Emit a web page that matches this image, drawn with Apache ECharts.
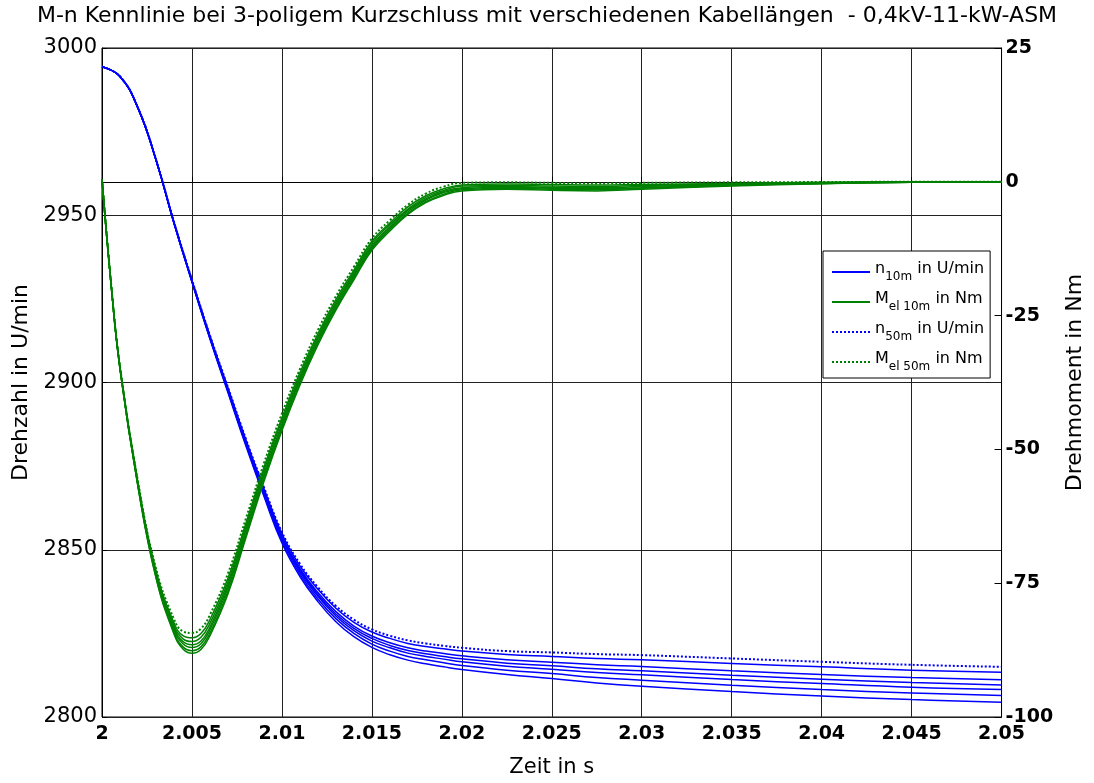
<!DOCTYPE html>
<html>
<head>
<meta charset="utf-8">
<script src="https://cdn.jsdelivr.net/npm/echarts@6/dist/echarts.min.js"></script>
<style>
html,body{margin:0;padding:0;background:#fff;}
#chart{width:1094px;height:783px;}
</style>
</head>
<body>
<div id="chart"></div>
<script>
// Time axes (s)
const timeSpeed = [2.000, 2.001, 2.002, 2.003, 2.004, 2.005, 2.006, 2.007, 2.008, 2.009, 2.010, 2.011, 2.012, 2.013, 2.014, 2.015, 2.016, 2.017, 2.018, 2.019, 2.020, 2.0225, 2.025, 2.0275, 2.030, 2.035, 2.040, 2.045, 2.050];
const timeTorque = [2.000, 2.0005, 2.001, 2.002, 2.003, 2.004, 2.0045, 2.005, 2.0055, 2.006, 2.007, 2.008, 2.009, 2.010, 2.011, 2.012, 2.013, 2.014, 2.015, 2.016, 2.017, 2.018, 2.019, 2.020, 2.0225, 2.025, 2.0275, 2.030, 2.035, 2.040, 2.045, 2.050];

// Speed n in U/min
const n10m = [2994.4, 2991.5, 2982.0, 2966.5, 2947.6, 2930.0, 2913.0, 2897.0, 2881.0, 2866.0, 2852.0, 2842.0, 2834.5, 2828.5, 2824.0, 2820.8, 2818.6, 2817.0, 2815.9, 2815.0, 2814.2, 2812.7, 2811.5, 2810.2, 2809.2, 2807.6, 2806.3, 2805.2, 2804.4];
const n15m = [2994.4, 2991.5, 2982.0, 2966.5, 2947.7, 2930.1, 2913.2, 2897.3, 2881.4, 2866.5, 2852.6, 2842.7, 2835.3, 2829.4, 2825.0, 2821.8, 2819.7, 2818.1, 2817.1, 2816.2, 2815.4, 2814.0, 2813.0, 2811.8, 2811.0, 2809.5, 2808.2, 2807.2, 2806.4];
const n20m = [2994.4, 2991.5, 2982.0, 2966.6, 2947.7, 2930.3, 2913.4, 2897.6, 2881.8, 2867.0, 2853.2, 2843.4, 2836.1, 2830.2, 2825.8, 2822.7, 2820.7, 2819.1, 2818.1, 2817.3, 2816.5, 2815.2, 2814.3, 2813.3, 2812.6, 2811.2, 2810.0, 2808.9, 2808.2];
const n25m = [2994.4, 2991.5, 2982.1, 2966.6, 2947.8, 2930.3, 2913.5, 2897.8, 2882.0, 2867.3, 2853.6, 2843.9, 2836.6, 2830.8, 2826.5, 2823.5, 2821.4, 2819.9, 2818.9, 2818.1, 2817.4, 2816.1, 2815.3, 2814.4, 2813.8, 2812.5, 2811.3, 2810.3, 2809.6];
const n30m = [2994.4, 2991.5, 2982.1, 2966.6, 2947.9, 2930.4, 2913.7, 2898.0, 2882.3, 2867.7, 2854.1, 2844.4, 2837.2, 2831.5, 2827.2, 2824.2, 2822.2, 2820.7, 2819.7, 2819.0, 2818.3, 2817.1, 2816.4, 2815.6, 2815.1, 2813.8, 2812.7, 2811.8, 2811.1];
const n40m = [2994.4, 2991.5, 2982.1, 2966.7, 2947.9, 2930.6, 2913.9, 2898.4, 2882.8, 2868.3, 2854.8, 2845.2, 2838.2, 2832.5, 2828.3, 2825.4, 2823.5, 2822.0, 2821.1, 2820.4, 2819.7, 2818.7, 2818.1, 2817.5, 2817.1, 2816.0, 2815.0, 2814.0, 2813.4];
const n50m = [2994.4, 2991.5, 2982.1, 2966.7, 2948.0, 2930.7, 2914.1, 2898.6, 2883.1, 2868.7, 2855.3, 2845.8, 2838.8, 2833.2, 2829.1, 2826.2, 2824.3, 2822.9, 2822.0, 2821.3, 2820.7, 2819.7, 2819.3, 2818.8, 2818.5, 2817.5, 2816.5, 2815.6, 2815.0];

// Electrical torque M_el in Nm
const m10m = [0.5, -19.0, -35.0, -57.0, -74.0, -84.5, -87.3, -88.1, -87.4, -84.8, -77.0, -66.5, -56.0, -46.5, -38.0, -30.5, -24.0, -18.3, -12.8, -9.2, -6.1, -3.9, -2.5, -1.7, -1.4, -1.6, -1.7, -1.4, -0.8, -0.35, -0.1, 0];
const m15m = [0.5, -19.0, -34.9, -56.9, -73.8, -84.1, -86.9, -87.6, -86.9, -84.3, -76.5, -66.0, -55.6, -46.1, -37.6, -30.1, -23.7, -18.0, -12.5, -8.9, -5.9, -3.7, -2.3, -1.5, -1.2, -1.4, -1.5, -1.2, -0.7, -0.3, -0.1, 0];
const m20m = [0.5, -18.9, -34.9, -56.7, -73.5, -83.7, -86.3, -87.0, -86.3, -83.7, -75.9, -65.5, -55.0, -45.6, -37.1, -29.7, -23.3, -17.6, -12.2, -8.6, -5.6, -3.4, -2.0, -1.3, -1.0, -1.2, -1.3, -1.1, -0.6, -0.3, -0.1, 0];
const m25m = [0.5, -18.9, -34.8, -56.6, -73.2, -83.3, -85.9, -86.5, -85.8, -83.2, -75.4, -65.0, -54.6, -45.2, -36.7, -29.3, -22.9, -17.3, -11.9, -8.4, -5.3, -3.2, -1.8, -1.1, -0.9, -1.0, -1.1, -0.9, -0.5, -0.2, -0.1, 0];
const m30m = [0.5, -18.9, -34.7, -56.4, -73.0, -82.9, -85.4, -85.9, -85.1, -82.5, -74.8, -64.4, -54.0, -44.6, -36.3, -28.9, -22.5, -16.9, -11.5, -8.0, -5.1, -2.9, -1.6, -0.8, -0.7, -0.8, -0.9, -0.7, -0.4, -0.2, 0, 0];
const m40m = [0.5, -18.9, -34.6, -56.2, -72.6, -82.4, -84.8, -85.2, -84.4, -81.8, -74.1, -63.8, -53.4, -44.1, -35.7, -28.4, -22.0, -16.5, -11.1, -7.7, -4.7, -2.6, -1.3, -0.6, -0.4, -0.5, -0.6, -0.5, -0.3, -0.1, 0, 0];
const m50m = [0.5, -18.8, -34.5, -56.0, -72.2, -81.7, -84.0, -84.3, -83.5, -80.9, -73.2, -62.9, -52.6, -43.3, -35.0, -27.7, -21.4, -15.9, -10.6, -7.2, -4.3, -2.2, -0.9, -0.2, -0.1, -0.2, -0.3, -0.2, -0.1, -0.05, 0, 0];

const speedTicks = [2800, 2850, 2900, 2950, 3000];
const torqueTicks = [-100, -75, -50, -25, 0, 25];

const FONT = 'DejaVu Sans';
const BLUE = '#0000ff';
const GREEN = '#008000';

function pairs(t, v) { return t.map((x, i) => [x, v[i]]); }

const speedSets = [
  ['n10m', n10m, 'solid'], ['n15m', n15m, 'solid'], ['n20m', n20m, 'solid'], ['n25m', n25m, 'solid'],
  ['n30m', n30m, 'solid'], ['n40m', n40m, 'solid'], ['n50m', n50m, 'dotted']
];
const torqueSets = [
  ['Mel10m', m10m, 'solid'], ['Mel15m', m15m, 'solid'], ['Mel20m', m20m, 'solid'], ['Mel25m', m25m, 'solid'],
  ['Mel30m', m30m, 'solid'], ['Mel40m', m40m, 'solid'], ['Mel50m', m50m, 'dotted']
];

const series = [];
speedSets.forEach(([name, vals, type]) => {
  series.push({
    name, type: 'line', yAxisIndex: 0, data: pairs(timeSpeed, vals),
    showSymbol: false, symbol: 'none', smooth: 0.45,
    lineStyle: { color: BLUE, width: type === 'dotted' ? 2 : 1.5, type },
    itemStyle: { color: BLUE }, z: 2, silent: true, animation: false
  });
});
torqueSets.forEach(([name, vals, type], i) => {
  const s = {
    name, type: 'line', yAxisIndex: 1, data: pairs(timeTorque, vals),
    showSymbol: false, symbol: 'none', smooth: 0.45,
    lineStyle: { color: GREEN, width: type === 'dotted' ? 2 : 1.5, type },
    itemStyle: { color: GREEN }, z: 3, silent: true, animation: false
  };
  if (i === 0) {
    s.markLine = {
      silent: true, symbol: 'none', label: { show: false },
      lineStyle: { color: '#000', width: 1, type: 'solid' },
      data: [{ yAxis: 0 }], z: 1, animation: false
    };
  }
  series.push(s);
});

const legendText = {
  n10m: '{b|n}{s|10m}{b| in U/min}',
  Mel10m: '{b|M}{s|el 10m}{b| in Nm}',
  n50m: '{b|n}{s|50m}{b| in U/min}',
  Mel50m: '{b|M}{s|el 50m}{b| in Nm}'
};

const chart = echarts.init(document.getElementById('chart'), null, { renderer: 'canvas' });
chart.setOption({
  animation: false,
  backgroundColor: '#fff',
  title: {
    text: 'M-n Kennlinie bei 3-poligem Kurzschluss mit verschiedenen Kabellängen  - 0,4kV-11-kW-ASM',
    left: 'center', top: 0,
    textStyle: { fontFamily: FONT, fontSize: 22, fontWeight: 'normal', color: '#000' }
  },
  grid: { left: 102, right: 84, top: 48, bottom: 57, show: true, borderColor: '#000', borderWidth: 1, backgroundColor: 'transparent' },
  legend: {
    data: ['n10m', 'Mel10m', 'n50m', 'Mel50m'],
    orient: 'vertical', left: 823, top: 251,
    padding: [8, 6, 5, 8], itemGap: 6, itemWidth: 38, itemHeight: 14,
    backgroundColor: '#fff', borderColor: '#000', borderWidth: 1, borderRadius: 0,
    selectedMode: false,
    itemStyle: { opacity: 0 },
    formatter: name => legendText[name],
    textStyle: {
      fontFamily: FONT, color: '#000',
      rich: {
        b: { fontFamily: FONT, fontSize: 16, color: '#000', verticalAlign: 'top', lineHeight: 22 },
        s: { fontFamily: FONT, fontSize: 12, color: '#000', verticalAlign: 'bottom', lineHeight: 22, padding: [12, 0, 0, 0] }
      }
    }
  },
  xAxis: {
    type: 'value', min: 2, max: 2.05, interval: 0.005,
    name: 'Zeit in s', nameLocation: 'middle', nameGap: 40,
    nameTextStyle: { fontFamily: FONT, fontSize: 21, color: '#000' },
    axisLine: { show: true, lineStyle: { color: '#000', width: 1 } },
    axisTick: { show: true, inside: true, length: 5, lineStyle: { color: '#000' } },
    axisLabel: {
      fontFamily: FONT, fontSize: 19, fontWeight: 'bold', color: '#000', margin: 8,
      formatter: v => String(+v.toFixed(3))
    },
    splitLine: { show: true, lineStyle: { color: '#222', width: 1 } }
  },
  yAxis: [
    {
      type: 'value', min: speedTicks[0], max: speedTicks[speedTicks.length - 1], interval: 50,
      name: 'Drehzahl in U/min', nameLocation: 'middle', nameGap: 67,
      nameTextStyle: { fontFamily: FONT, fontSize: 22, color: '#000' },
      axisLine: { show: true, lineStyle: { color: '#000' } },
      axisTick: { show: true, inside: true, length: 5, lineStyle: { color: '#000' } },
      axisLabel: { fontFamily: FONT, fontSize: 21, color: '#000', margin: 5, formatter: v => String(v) },
      splitLine: { show: true, lineStyle: { color: '#222', width: 1 } }
    },
    {
      type: 'value', min: torqueTicks[0], max: torqueTicks[torqueTicks.length - 1], interval: 25,
      name: 'Drehmoment in Nm', nameLocation: 'middle', nameGap: 55,
      nameTextStyle: { fontFamily: FONT, fontSize: 22, color: '#000' },
      axisLine: { show: true, lineStyle: { color: '#000' } },
      axisTick: { show: true, inside: true, length: 7, lineStyle: { color: '#000' } },
      axisLabel: { fontFamily: FONT, fontSize: 19, fontWeight: 'bold', color: '#000', margin: 4, formatter: v => String(v) },
      splitLine: { show: false }
    }
  ],
  series
});
</script>
</body>
</html>
